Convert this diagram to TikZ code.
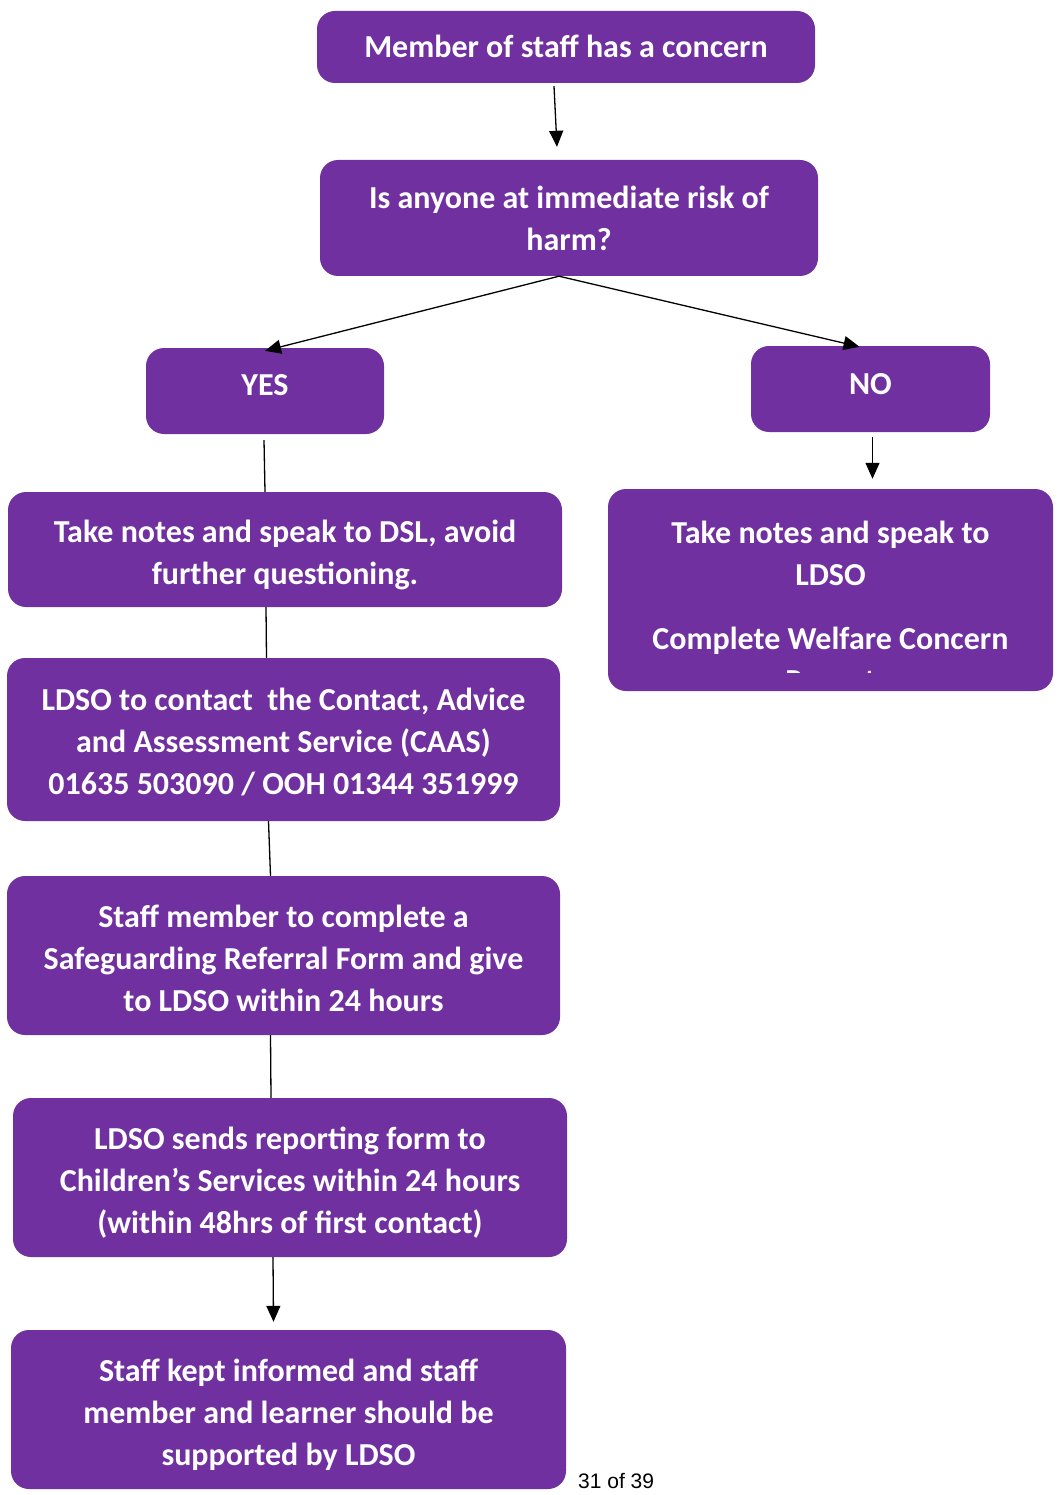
\documentclass[tikz,border=0pt]{standalone}
\usepackage{fontspec}
\setmainfont{Carlito}
\newfontfamily\pagefont{Liberation Sans}
\usetikzlibrary{arrows.meta,calc}
\definecolor{boxpurple}{HTML}{7030A0}
\begin{document}
\begin{tikzpicture}[x=1pt,y=-1pt,
  pbox/.style={fill=boxpurple,draw=none,rounded corners=18pt,inner sep=0pt},
  ptext/.style={text=white,font=\bfseries\fontsize{32}{42}\selectfont,align=center,inner sep=0pt},
  conn/.style={line width=1.3pt,draw=black},
  arr/.style={conn,-{Triangle[length=16pt,width=14pt]}}]
\useasboundingbox (0,0) rectangle (1057,1495);
% boxes
\node[pbox,minimum width=498pt,minimum height=72pt] (top) at (566,47) {};
\node[pbox,minimum width=498pt,minimum height=116pt] (risk) at (569,218) {};
\node[pbox,minimum width=238pt,minimum height=86pt] (yes) at (265,391) {};
\node[pbox,minimum width=239pt,minimum height=86pt] (no) at (870.5,389) {};
\node[pbox,minimum width=554pt,minimum height=115pt] (dsl) at (285,549.5) {};
\node[pbox,minimum width=445pt,minimum height=202pt] (ldso) at (830.5,590) {};
\node[pbox,minimum width=553pt,minimum height=163pt] (caas) at (283.5,739.5) {};
\node[pbox,minimum width=553pt,minimum height=159pt] (form) at (283.5,955.5) {};
\node[pbox,minimum width=554pt,minimum height=159pt] (sends) at (290,1177.5) {};
\node[pbox,minimum width=555pt,minimum height=159pt] (kept) at (288.5,1409.5) {};
% texts (anchor=base is the baseline of the last line)
\node[ptext,anchor=base] (ttop) at (566,58) {Member of staff has a concern};
\node[ptext,anchor=base] (trisk) at (569,251) {Is anyone at immediate risk of\\harm?};
\node[ptext,anchor=base] (tyes) at (265,395) {YES};
\node[ptext,anchor=base] (tno) at (870.5,394) {NO};
\node[ptext,anchor=base] (tdsl) at (285,584) {Take notes and speak to DSL, avoid\\further questioning.};
\begin{scope}
\clip (608,489) rectangle (1053,672);
\node[ptext,anchor=base] (tldso) at (830.5,691) {Take notes and speak to\\LDSO\\[22pt]Complete Welfare Concern\\Report};
\end{scope}
\node[ptext,anchor=base] (tcaas) at (283.5,794) {LDSO to contact\ \ the Contact, Advice\\and Assessment Service (CAAS)\\01635 503090 / OOH 01344 351999};
\node[ptext,anchor=base] (tform) at (283.5,1011) {Staff member to complete a\\Safeguarding Referral Form and give\\to LDSO within 24 hours};
\node[ptext,anchor=base] (tsends) at (290,1233) {LDSO sends reporting form to\\Children’s Services within 24 hours\\(within 48hrs of first contact)};
\node[ptext,anchor=base] (tkept) at (288.5,1465) {Staff kept informed and staff\\member and learner should be\\supported by LDSO};
\node[anchor=base west,inner sep=0pt,font=\pagefont\fontsize{21}{24}\selectfont] (pg) at (578,1488) {31 of 39};
% connectors
\draw[arr] ([xshift=-12pt,yshift=-3pt]top.south) -- ([xshift=-12pt,yshift=13pt]risk.north);
\draw[arr] ([xshift=-10pt]risk.south) -- ([yshift=-3pt]yes.north);
\draw[arr] ([xshift=-10pt]risk.south) -- ([xshift=-11pt,yshift=-1pt]no.north);
\draw[conn] ([xshift=-1pt,yshift=-6pt]yes.south) -- ([xshift=-20pt]dsl.north);
\draw[arr] ([xshift=2pt,yshift=-5pt]no.south) -- ([xshift=42pt,yshift=10pt]ldso.north);
\draw[conn] ([xshift=-19pt]dsl.south) -- ([xshift=-17pt]caas.north);
\draw[conn] ([xshift=-15pt]caas.south) -- ([xshift=-13pt]form.north);
\draw[conn] ([xshift=-13pt]form.south) -- ([xshift=-19pt]sends.north);
\draw[arr] ([xshift=-17pt]sends.south) -- ([xshift=-15pt,yshift=8pt]kept.north);
\end{tikzpicture}
\end{document}
